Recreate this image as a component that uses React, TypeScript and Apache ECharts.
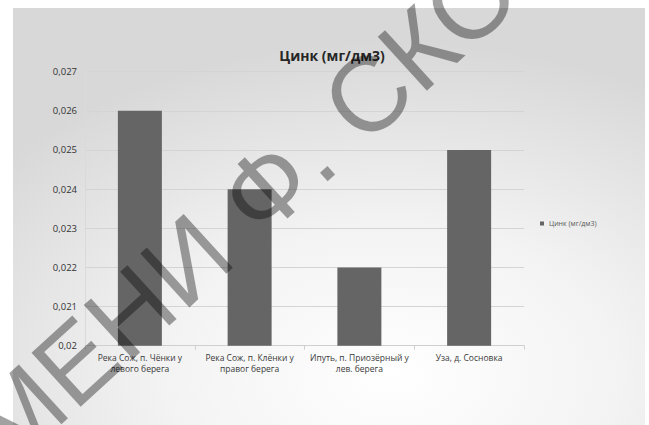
import React, { useEffect, useRef } from "react";
import * as echarts from "echarts";

// Zinc concentration at four river sampling points
const chartTitle = "Цинк (мг/дм3)";
const seriesName = "Цинк (мг/дм3)";
const categories = [
  "Река Сож, п. Чёнки у\nлевого берега",
  "Река Сож, п. Клёнки у\nправог берега",
  "Ипуть, п. Приозёрный у\nлев. берега",
  "Уза, д. Сосновка",
];
const zincValues = [0.026, 0.024, 0.022, 0.025];
const yMin = 0.02;
const yMax = 0.027;
const yStep = 0.001;
const stampText = "ИМЕНИ Ф. СКО";

const W = 649;
const H = 425;

export default function App() {
  const ref = useRef<HTMLDivElement>(null);

  useEffect(() => {
    if (!ref.current) return;
    const chart = echarts.init(ref.current, undefined, { renderer: "svg" });
    const font = "'Open Sans', 'Liberation Sans', sans-serif";
    chart.setOption({
      animation: false,
      backgroundColor: "#ffffff",
      textStyle: { fontFamily: font },
      title: {
        text: chartTitle,
        left: 327,
        top: 43,
        textAlign: "center",
        textStyle: { fontSize: 14, fontWeight: "bold", color: "#262626", fontFamily: font },
      },
      legend: {
        data: [seriesName],
        left: 535,
        top: 215,
        itemWidth: 4,
        itemHeight: 4,
        itemGap: 3,
        icon: "rect",
        textStyle: { fontSize: 7, color: "#595959", fontFamily: font },
      },
      grid: { left: 85, right: 125, top: 71.7, bottom: 79.3, containLabel: false },
      xAxis: {
        type: "category",
        data: categories,
        axisLine: { show: true, lineStyle: { color: "#cfcfcf", width: 1 } },
        axisTick: { show: true, length: 4, lineStyle: { color: "#cfcfcf" } },
        axisLabel: {
          interval: 0,
          margin: 6,
          fontSize: 8.5,
          lineHeight: 11,
          color: "#3a3a3a",
          fontFamily: font,
        },
      },
      yAxis: {
        type: "value",
        min: yMin,
        max: yMax,
        interval: yStep,
        axisLine: { show: true, lineStyle: { color: "#dadada", width: 1 } },
        axisTick: { show: false },
        splitLine: { show: true, lineStyle: { color: "#d4d4d4", width: 1 } },
        axisLabel: {
          margin: 8,
          fontSize: 9.5,
          color: "#333333",
          fontFamily: font,
          formatter: (v: number) => String(Math.round(v * 1000) / 1000).replace(".", ","),
        },
      },
      series: [
        {
          name: seriesName,
          type: "bar",
          data: zincValues,
          barWidth: 44,
          itemStyle: { color: "#656565" },
        },
      ],
      graphic: [
        {
          type: "rect",
          z: -10,
          silent: true,
          shape: { x: 13, y: 8, width: 632, height: 417 },
          style: {
            fill: new echarts.graphic.RadialGradient(0.6, 0.88, 0.8, [
              { offset: 0, color: "#ffffff" },
              { offset: 0.45, color: "#f3f3f3" },
              { offset: 1, color: "#d8d8d8" },
            ]),
          },
        },
        {
          // diagonal stamp lettering across the sheet
          type: "text",
          z: 100,
          silent: true,
          x: -72,
          y: 496,
          rotation: 0.74,
          style: {
            text: stampText,
            fontSize: 106,
            fontFamily: "'Liberation Sans', Arial, sans-serif",
            fill: "rgba(0,0,0,0.37)",
            textAlign: "left",
            textVerticalAlign: "middle",
          },
        },
      ],
    });
    return () => chart.dispose();
  }, []);

  return (
    <div
      ref={ref}
      style={{ position: "absolute", left: 0, top: 0, width: W, height: H }}
    />
  );
}
